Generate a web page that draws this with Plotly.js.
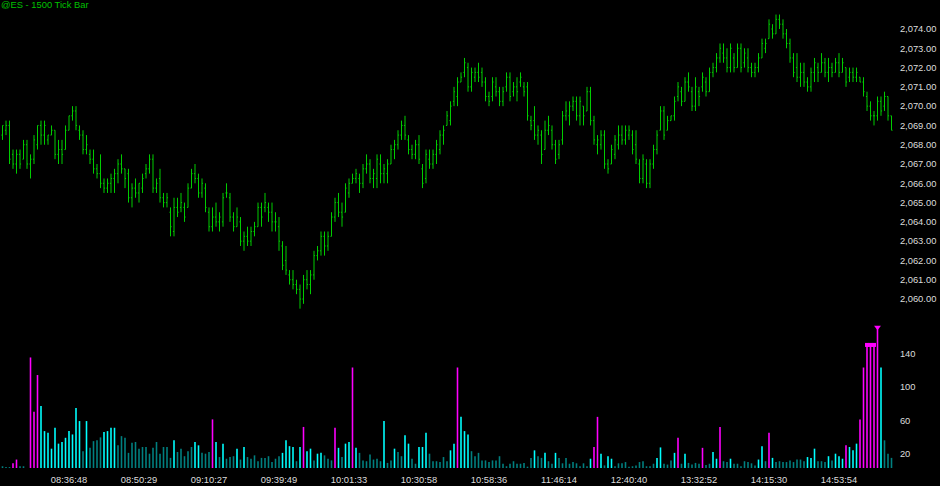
<!DOCTYPE html>
<html>
<head>
<meta charset="utf-8">
<script src="https://cdn.plot.ly/plotly-3.0.1.min.js"></script>
<style>html,body{margin:0;padding:0;background:#000;}#chart{width:940px;height:486px;}</style>
</head>
<body>
<div id="chart"></div>
<script>
// ---- data ----
const chartTitle = '@ES - 1500 Tick Bar';
const highs = [
2069.0,2069.25,2069.25,2067.75,2067.75,2067.75,2068.25,2068.25,2067.5,2068.5,
2069.0,2069.25,2069.25,2068.5,2069.0,2068.75,2068.25,2068.25,2069.0,2069.5,
2070.0,2070.0,2069.0,2068.75,2068.5,2067.75,2067.75,2067.0,2067.5,2066.25,
2066.25,2066.5,2066.75,2067.25,2067.5,2066.75,2066.75,2066.0,2066.25,2066.0,
2066.5,2067.0,2067.5,2067.5,2066.25,2066.75,2065.5,2065.5,2064.75,2065.25,
2065.25,2065.5,2065.0,2066.0,2066.75,2067.0,2066.5,2066.25,2066.0,2064.75,
2064.75,2065.0,2064.5,2065.5,2066.0,2065.5,2064.5,2064.75,2064.25,2063.5,
2063.75,2063.75,2064.0,2065.0,2065.0,2065.5,2065.0,2065.0,2064.5,2064.25,
2063.0,2062.75,2061.5,2061.5,2061.0,2060.75,2061.25,2061.5,2061.5,2062.5,
2062.75,2063.5,2063.5,2063.5,2064.5,2065.25,2065.5,2065.0,2066.0,2066.25,
2066.5,2066.75,2066.5,2067.0,2067.5,2067.25,2066.75,2067.5,2067.5,2067.0,
2067.25,2068.0,2068.25,2068.75,2069.25,2069.5,2068.5,2068.0,2068.25,2068.5,
2067.0,2067.75,2067.75,2067.75,2068.25,2068.75,2069.0,2069.75,2070.25,2071.0,
2071.5,2071.75,2072.5,2072.25,2072.0,2072.0,2072.25,2072.0,2071.5,2070.75,
2071.5,2071.5,2071.0,2071.0,2071.75,2071.75,2071.25,2071.5,2071.75,2071.25,
2071.25,2069.5,2070.0,2069.0,2068.75,2069.25,2069.5,2069.0,2068.25,2068.25,
2069.75,2070.25,2070.25,2070.5,2070.5,2070.5,2070.0,2071.0,2071.0,2069.5,
2068.5,2068.75,2068.75,2067.25,2068.0,2068.5,2069.0,2069.0,2069.0,2069.0,
2068.75,2068.75,2067.25,2067.5,2067.25,2067.25,2068.0,2068.75,2070.0,2070.0,
2069.5,2069.5,2070.5,2071.25,2071.0,2071.5,2071.75,2071.0,2071.5,2071.0,
2071.75,2071.5,2072.0,2072.25,2072.75,2073.25,2073.25,2073.0,2073.25,2072.75,
2073.25,2073.25,2073.0,2073.0,2072.25,2072.25,2072.75,2073.5,2073.5,2074.5,
2074.25,2074.75,2074.75,2074.5,2074.0,2073.5,2072.75,2072.75,2072.25,2072.25,
2071.5,2072.0,2072.5,2072.25,2072.75,2072.5,2072.5,2072.25,2072.5,2072.75,
2072.5,2072.0,2072.0,2072.0,2072.0,2071.5,2071.5,2070.75,2070.25,2069.75,
2070.5,2070.5,2070.75,2070.5,2069.5];
const lows = [
2068.25,2068.5,2067.0,2066.75,2066.5,2066.75,2067.25,2066.75,2066.25,2067.0,
2067.75,2068.0,2068.0,2068.0,2068.5,2067.25,2067.0,2067.0,2067.75,2068.75,
2069.25,2068.75,2068.25,2067.5,2067.5,2067.0,2066.5,2066.25,2065.75,2065.5,
2065.5,2065.5,2065.5,2066.0,2066.5,2065.75,2065.0,2064.75,2065.25,2065.0,
2065.5,2066.25,2066.5,2065.5,2065.5,2065.0,2064.75,2064.75,2063.25,2063.25,
2064.25,2064.5,2064.0,2064.75,2065.75,2066.0,2065.25,2065.25,2064.5,2063.5,
2063.5,2063.75,2063.5,2063.75,2065.25,2064.0,2063.5,2063.75,2062.75,2062.5,
2062.75,2062.75,2063.25,2063.75,2063.75,2064.5,2064.0,2063.5,2063.5,2062.5,
2061.5,2061.25,2060.75,2060.5,2060.25,2059.5,2059.75,2060.5,2060.25,2061.0,
2062.0,2062.25,2062.25,2062.5,2063.25,2064.0,2064.25,2063.75,2064.5,2065.25,
2066.0,2066.0,2065.5,2065.75,2066.5,2066.0,2065.75,2065.75,2066.0,2066.0,
2066.0,2067.0,2067.25,2067.75,2068.25,2068.25,2067.5,2067.25,2067.25,2067.0,
2065.75,2066.0,2066.75,2066.75,2067.0,2067.5,2068.0,2069.0,2069.0,2070.0,
2070.0,2071.25,2071.5,2070.75,2070.75,2071.25,2071.25,2071.0,2070.25,2070.0,
2070.25,2070.5,2070.0,2070.0,2070.75,2070.25,2070.5,2070.25,2071.0,2070.5,
2069.25,2068.75,2068.25,2068.0,2067.0,2067.75,2068.5,2067.75,2067.0,2067.25,
2068.0,2069.25,2069.0,2069.75,2069.25,2069.0,2069.0,2069.75,2069.0,2068.0,
2067.5,2067.75,2066.75,2066.5,2067.0,2067.25,2067.75,2068.0,2068.0,2068.25,
2067.5,2067.0,2066.0,2066.0,2065.75,2065.75,2066.75,2067.5,2068.75,2068.25,
2068.75,2069.25,2069.25,2070.25,2070.0,2070.25,2070.75,2069.75,2069.75,2070.0,
2070.75,2070.5,2070.75,2071.5,2071.75,2072.25,2072.25,2071.75,2071.75,2071.75,
2072.0,2071.75,2072.0,2071.75,2071.5,2071.5,2071.75,2072.5,2072.75,2073.5,
2073.5,2073.75,2074.0,2073.5,2073.0,2072.25,2071.5,2071.25,2071.0,2071.0,
2070.75,2070.75,2071.25,2071.25,2071.75,2071.5,2071.25,2071.5,2071.75,2071.5,
2071.75,2071.0,2071.25,2071.25,2071.25,2071.25,2070.5,2069.75,2069.25,2069.0,
2069.25,2069.5,2069.75,2069.25,2068.75];
const opens = [
2068.5,2068.75,2069.0,2067.5,2067.0,2067.5,2067.25,2068.0,2067.0,2067.25,
2068.0,2069.0,2068.5,2068.25,2068.5,2068.75,2067.5,2067.75,2067.75,2068.75,
2069.5,2069.75,2068.75,2068.5,2067.75,2067.5,2067.25,2066.75,2066.5,2066.0,
2065.75,2066.0,2066.25,2066.5,2067.0,2066.75,2066.5,2065.25,2065.75,2065.5,
2065.75,2066.5,2066.75,2067.25,2065.75,2066.25,2065.25,2065.0,2064.5,2063.5,
2064.75,2064.75,2064.75,2064.75,2065.75,2066.5,2066.25,2065.5,2065.75,2064.5,
2063.75,2064.25,2064.0,2064.0,2065.5,2065.25,2064.25,2063.75,2064.0,2063.0,
2063.25,2063.0,2063.5,2063.75,2064.75,2064.75,2064.75,2064.5,2064.0,2063.75,
2062.75,2062.0,2061.25,2061.0,2060.75,2060.5,2060.0,2061.0,2060.75,2061.25,
2062.25,2062.5,2063.25,2062.75,2063.25,2064.25,2065.0,2064.5,2064.5,2065.5,
2066.0,2066.25,2066.25,2066.0,2066.75,2067.0,2066.25,2066.25,2067.0,2066.5,
2066.5,2067.0,2067.75,2068.0,2068.5,2069.0,2068.25,2067.75,2067.5,2068.0,
2066.75,2066.25,2067.25,2067.0,2067.5,2067.75,2068.5,2069.0,2069.25,2070.25,
2070.5,2071.25,2071.75,2072.0,2071.0,2071.5,2071.75,2071.75,2071.25,2070.5,
2070.5,2071.0,2070.75,2070.25,2071.0,2071.5,2070.75,2071.0,2071.25,2071.0,
2071.0,2069.25,2069.25,2068.5,2068.5,2067.75,2068.75,2068.75,2068.0,2067.5,
2068.25,2069.5,2069.5,2070.0,2070.25,2069.5,2070.0,2069.75,2070.75,2069.25,
2068.0,2068.0,2068.5,2067.0,2067.0,2067.5,2068.0,2068.5,2068.25,2068.5,
2068.5,2068.0,2067.0,2066.25,2067.0,2066.0,2067.0,2067.75,2068.75,2069.75,
2068.75,2069.25,2069.5,2070.5,2070.75,2070.25,2071.25,2070.75,2070.0,2070.75,
2071.0,2071.25,2070.75,2071.75,2072.0,2072.5,2072.75,2072.5,2072.0,2072.5,
2072.0,2073.0,2072.25,2072.5,2072.0,2071.75,2072.0,2072.5,2073.0,2073.5,
2074.0,2073.75,2074.5,2074.25,2073.75,2073.25,2072.5,2072.0,2071.5,2071.75,
2071.25,2071.0,2071.75,2072.0,2071.75,2072.25,2071.75,2072.0,2071.75,2072.25,
2071.75,2072.0,2071.5,2071.75,2071.5,2071.5,2071.25,2070.5,2070.0,2069.5,
2069.5,2070.25,2070.0,2070.5,2069.5];
const closes = [
2069.0,2069.0,2067.25,2067.0,2067.5,2067.0,2068.0,2067.0,2067.25,2068.25,
2069.0,2068.5,2069.0,2068.5,2068.75,2067.5,2067.75,2067.5,2068.75,2069.5,
2069.75,2069.0,2068.5,2067.75,2068.0,2067.25,2066.75,2066.5,2066.0,2065.75,
2066.0,2066.25,2066.5,2067.0,2066.75,2066.25,2065.25,2065.75,2065.5,2066.0,
2066.25,2066.75,2067.25,2065.75,2066.0,2065.25,2065.0,2065.25,2063.75,2064.75,
2064.5,2065.0,2064.25,2065.75,2066.5,2066.25,2065.5,2066.0,2064.75,2063.75,
2064.25,2064.0,2064.25,2065.25,2065.5,2064.25,2063.75,2064.25,2063.0,2063.25,
2063.0,2063.5,2063.75,2064.75,2064.25,2065.0,2064.5,2064.0,2064.0,2063.0,
2061.75,2061.5,2061.0,2060.75,2060.5,2060.0,2061.0,2060.75,2061.25,2062.25,
2062.5,2063.25,2062.75,2063.25,2064.25,2065.0,2064.5,2064.25,2065.75,2066.0,
2066.25,2066.5,2066.0,2066.75,2067.0,2066.25,2066.5,2067.25,2066.5,2066.75,
2067.0,2067.75,2068.0,2068.5,2069.0,2068.5,2067.75,2067.5,2068.0,2067.25,
2066.0,2067.5,2067.0,2067.5,2068.0,2068.5,2068.75,2069.5,2070.0,2070.75,
2071.25,2071.5,2072.25,2071.0,2071.75,2071.75,2071.5,2071.25,2070.5,2070.25,
2071.25,2070.75,2070.25,2070.75,2071.5,2070.5,2071.0,2070.75,2071.5,2070.75,
2069.5,2069.0,2068.5,2068.75,2067.5,2068.75,2069.0,2068.0,2067.25,2068.0,
2069.5,2069.75,2070.0,2070.25,2069.5,2070.25,2069.5,2070.75,2069.25,2068.25,
2068.25,2068.5,2067.0,2066.75,2067.75,2068.25,2068.5,2068.25,2068.75,2068.75,
2067.75,2067.25,2066.25,2067.25,2066.0,2067.0,2067.75,2068.5,2069.75,2068.5,
2069.25,2069.5,2070.25,2071.0,2070.25,2071.25,2071.0,2070.0,2071.0,2070.5,
2071.5,2070.75,2071.75,2072.0,2072.5,2073.0,2072.5,2072.0,2073.0,2072.0,
2073.0,2072.0,2072.75,2072.0,2071.75,2072.0,2072.5,2073.25,2073.25,2074.25,
2073.75,2074.5,2074.25,2073.75,2073.25,2072.5,2071.75,2071.5,2071.75,2071.25,
2071.0,2071.75,2072.25,2071.75,2072.25,2071.75,2072.0,2071.75,2072.25,2071.75,
2072.25,2071.25,2071.75,2071.5,2071.75,2071.25,2070.75,2070.0,2069.5,2069.5,
2070.25,2069.75,2070.5,2069.5,2068.75];
const volumes = [
5,4,4,8.5,13,5,5,25,135,70,
114,77,47,45,26,51,32,34,39,47,
43,74.5,59,23,59,27,35,36,39.5,46,
47,51,51,30,41,39,21,33,34,26,
28,28,20,27,34,20,28,28,15,36,
22,26,17,23,28,34,30,21,20,22,
61,34,16,32,14,16,17,26,13,28,
16,14,18,11,15,15,17,10,14,17,
21,36,29,28,11,28,52,23,26,12,
20,21,18,14,12,51,27,16,32,34,
123,27,21,12,11,19,13,14,11,59,
9,12,26,22,17,42,32,14,8,28,
28,45,20,11,11,10,16,11,24,32,
123,64,47,43,23,17,21,12,12,10,
12,12,17,8,5,8,11,8,8,9,
4.5,15,24,17,15,21,11,8,21,15,
8.5,15,8,10,8.5,5,8.5,5,14,28,
64,20,6,17,14,5,8.5,8.5,10,4.5,
5,6,10,11,5,5,8,15,27.5,8,
7,12,21,39,8,20,9,7,9,8,
27,6.5,8,22,14,52,11,10,14,8,
8,5,11,10,8.5,6,13,29,11,45,
15,10,11,10,10,12,10,13,13,11,
16,15,26,11,11,10,17,12,20,17,
14,30,28,24,32,61,123,150,150,150,
171,123,36,20,15];
// volume class per bar: h = above average, l = below average, s = spike
const volClass = (
'lllsslless'+'shhhhhhhhh'+'hhhlhllllh'+'hhhlllllll'+'lllllllllh'+
'lllllhhlll'+'shlhlllhlh'+'llllllllll'+'hhhhlhshhl'+'hhlllshlhh'+
'shlllllllh'+'llhllhhllh'+'hhllllllhh'+'shhhllllll'+'llllllllll'+
'llhllhllhl'+'llllllllhs'+'shlhhlllll'+'lllllllhhl'+'llhslhllll'+
'sllhhsllhl'+'llllllhhls'+'hlllllllll'+'hhhlllhlhh'+'hshhhsssss'+
'shlll').split('');
const flatCapBars = [247, 248, 249];
const peakCapBars = [250];
const timeTickBars = [19, 39, 59, 79, 99, 119, 139, 159, 179, 199, 219, 239];
const timeTickText = ['08:36:48','08:50:29','09:10:27','09:39:49','10:01:33','10:30:58',
                      '10:58:36','11:46:14','12:40:40','13:32:52','14:15:30','14:53:54'];
const priceTicks = [2060,2061,2062,2063,2064,2065,2066,2067,2068,2069,2070,2071,2072,2073,2074];
const volumeTicks = [20, 60, 100, 140];

// ---- build ----
const idx = highs.map((_, i) => i);
const green = '#00cc00';
const classColor = {h: '#00ffff', l: '#008080', s: '#ff00ff'};
const FONT = '"Liberation Sans", Arial, sans-serif';

const traces = [
  {
    type: 'ohlc', x: idx, open: opens, high: highs, low: lows, close: closes,
    xaxis: 'x', yaxis: 'y', tickwidth: 0.3,
    increasing: {line: {color: green, width: 1}},
    decreasing: {line: {color: green, width: 1}},
    hoverinfo: 'skip', showlegend: false
  },
  {
    type: 'bar', x: idx, y: volumes, xaxis: 'x', yaxis: 'y2', width: 0.45,
    marker: {color: volClass.map(c => classColor[c]), line: {width: 0}},
    hoverinfo: 'skip', showlegend: false
  },
  {
    type: 'scatter', mode: 'lines+markers', x: flatCapBars, y: flatCapBars.map(i => volumes[i]),
    xaxis: 'x', yaxis: 'y2', line: {color: '#ff00ff', width: 3},
    marker: {symbol: 'square', size: 4, color: '#ff00ff'}, hoverinfo: 'skip', showlegend: false
  },
  {
    type: 'scatter', mode: 'markers', x: peakCapBars, y: peakCapBars.map(i => volumes[i]),
    xaxis: 'x', yaxis: 'y2',
    marker: {symbol: 'triangle-down', size: 6, color: '#ff00ff'}, hoverinfo: 'skip', showlegend: false
  }
];

const axisCommon = {
  showgrid: false, zeroline: false, showline: false,
  ticks: 'outside', ticklen: 2, tickcolor: 'rgba(0,0,0,0)',
  tickfont: {family: FONT, size: 9.4, color: '#dcdcdc'}, fixedrange: true
};

const layout = {
  width: 940, height: 486,
  paper_bgcolor: '#000000', plot_bgcolor: '#000000',
  margin: {l: 0, r: 45, t: 0, b: 18, pad: 0},
  showlegend: false,
  font: {family: FONT, size: 9.4, color: '#dcdcdc'},
  title: {
    text: chartTitle, xref: 'container', yref: 'container',
    x: 0.001, xanchor: 'left', y: 0.998, yanchor: 'top',
    pad: {t: 0, l: 0, r: 0, b: 0},
    font: {family: FONT, size: 9.4, color: '#00c000'}
  },
  xaxis: Object.assign({}, axisCommon, {
    range: [-0.714, 255.0], anchor: 'y2',
    tickmode: 'array', tickvals: timeTickBars, ticktext: timeTickText,
    ticklen: 3, rangeslider: {visible: false}
  }),
  yaxis: Object.assign({}, axisCommon, {
    domain: [0.3333, 1], range: [2059.326, 2075.504], side: 'right', anchor: 'x',
    tickmode: 'array', tickvals: priceTicks, tickformat: ',.2f'
  }),
  yaxis2: Object.assign({}, axisCommon, {
    domain: [0, 0.312], range: [2.91, 177.4], side: 'right', anchor: 'x',
    tickmode: 'array', tickvals: volumeTicks
  })
};

Plotly.newPlot('chart', traces, layout, {staticPlot: true, displayModeBar: false});
</script>
</body>
</html>
